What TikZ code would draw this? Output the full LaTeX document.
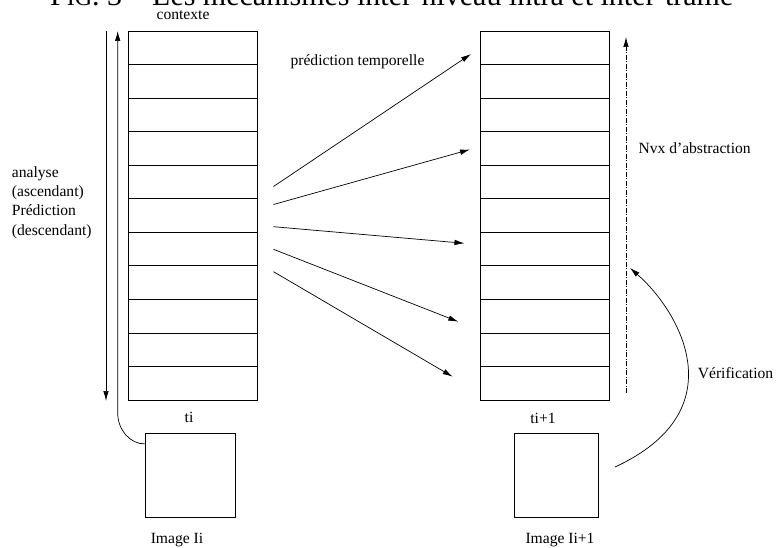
\documentclass[tikz,border=0pt]{standalone}
\usepackage{fontspec}
\setmainfont{Liberation Serif}
\usetikzlibrary{arrows.meta}
\begin{document}
\begin{tikzpicture}[x=1pt,y=-1pt,
  lbl/.style={font=\fontsize{15.6}{19.4}\selectfont, inner sep=0pt},
  cell/.style={draw, line width=0.8pt, minimum width=129pt, minimum height=33.55pt, inner sep=0pt},
  imgbox/.style={draw, line width=0.8pt, minimum height=84pt, inner sep=0pt},
  arr/.style={line width=0.7pt, -{Latex[length=10pt,width=5.5pt]}},
  dashdot/.style={line width=0.7pt, dash pattern=on 5pt off 1.5pt on 1pt off 1.5pt}
  ]
\useasboundingbox (0,0) rectangle (777,548);
\begin{scope}
\clip (0,0) rectangle (777,548);
\node[anchor=base west, font=\fontsize{30}{33}\selectfont, inner sep=0pt] (cap) at (50,5.5) {F{\fontsize{24}{27}\selectfont IG}. 3 -- Les mécanismes inter-niveau intra et inter-trame};
\end{scope}

% stacks
\foreach \i in {1,...,11} {
  \node[cell] (L\i) at (192.7, {31+33.55*(\i-0.5)}) {};
  \node[cell] (R\i) at (544.9, {31+33.55*(\i-0.5)}) {};
}

% image boxes
\node[imgbox, minimum width=89.7pt] (I1) at (190.1,475.3) {};
\node[imgbox, minimum width=84pt] (I2) at (556.3,475.3) {};

% labels
\node[lbl] (ctx) at (183,15.5) {contexte};
\node[lbl] (pt) at (357.5,61.7) {prédiction temporelle};
\node[lbl, anchor=west, align=left] (ana) at (11.7,202.5) {analyse\\(ascendant)\\Prédiction\\(descendant)};
\node[lbl] (ti) at (189,417) {ti};
\node[lbl] (ti1) at (543,418) {ti+1};
\node[lbl] (im1) at (177,540) {Image Ii};
\node[lbl] (im2) at (560,540) {Image Ii+1};
\node[lbl, anchor=west] (nvx) at (638.3,148) {Nvx d'abstraction};
\node[lbl] (ver) at (735.5,373) {Vérification};

% left vertical arrows
\coordinate (dtop) at (106,31);
\coordinate (dbot) at (106,401);
\draw[arr] (dtop) -- (dbot);
\coordinate (utop) at (117.7,31);
\coordinate (ucorner) at (117.7,413);
\draw[arr] ([yshift=-11pt]I1.north west) .. controls (130.5,444.3) and (117.7,430) .. (ucorner) -- (utop);

% abstraction axis
\coordinate (atop) at (626,37);
\coordinate (abot) at (626,393);
\draw[dashdot, -{Latex[length=10pt,width=5.5pt]}] (abot) -- (atop);

% verification arc
\coordinate (vs) at (615,467);
\coordinate (ve) at (630,268);
\draw[arr] (vs) .. controls (736.6,410.9) and (680.4,312.1) .. (ve);

% temporal prediction arrows
\coordinate (s1) at (273.5,186.5);
\coordinate (s2) at (273.5,204.5);
\coordinate (s3) at (273.5,226.7);
\coordinate (s4) at (273.5,249.3);
\coordinate (s5) at (273.5,271.7);
\coordinate (e1) at (471,54);
\coordinate (e2) at (470,149.5);
\coordinate (e3) at (464.5,243.3);
\coordinate (e4) at (458.3,321.7);
\coordinate (e5) at (452.7,376.7);
\foreach \k in {1,...,5} \draw[arr] (s\k) -- (e\k);
\end{tikzpicture}
\end{document}
